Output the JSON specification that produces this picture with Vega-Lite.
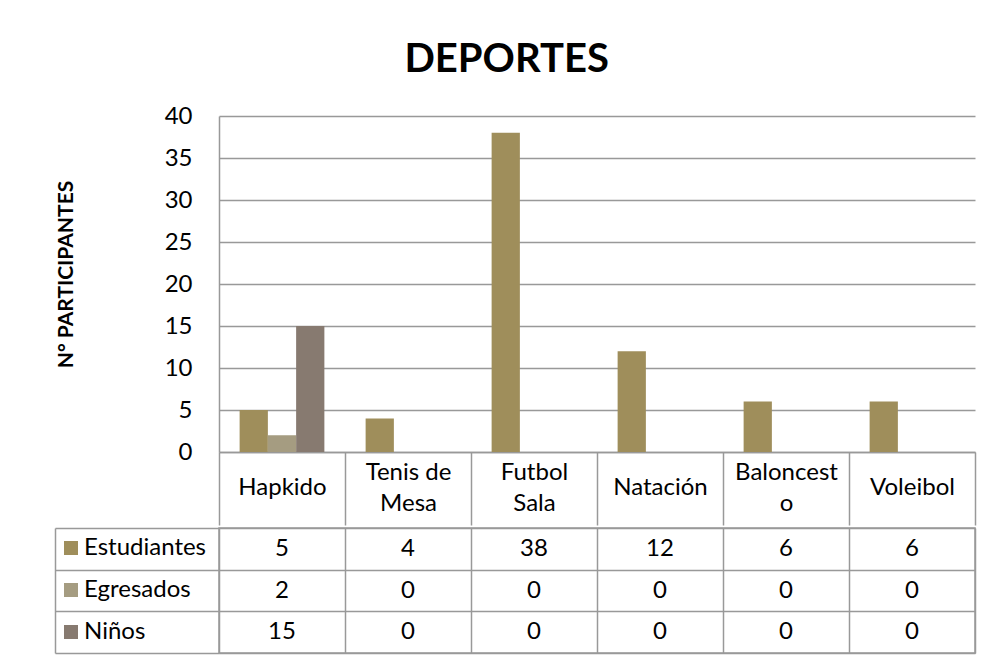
{
  "$schema": "https://vega.github.io/schema/vega-lite/v6.json",
  "padding": {"left": 53, "top": 40, "right": 10, "bottom": 5},
  "background": "#ffffff",
  "title": {"text": "DEPORTES", "font": "Lato", "fontSize": 40, "fontWeight": "bold", "color": "#000000", "anchor": "middle", "offset": 24, "dx": -8},
  "data": {"values": [
    {"sport": "Hapkido", "series": "Estudiantes", "value": 5},
    {"sport": "Hapkido", "series": "Egresados", "value": 2},
    {"sport": "Hapkido", "series": "Niños", "value": 15},
    {"sport": "Tenis de Mesa", "series": "Estudiantes", "value": 4},
    {"sport": "Tenis de Mesa", "series": "Egresados", "value": 0},
    {"sport": "Tenis de Mesa", "series": "Niños", "value": 0},
    {"sport": "Futbol Sala", "series": "Estudiantes", "value": 38},
    {"sport": "Futbol Sala", "series": "Egresados", "value": 0},
    {"sport": "Futbol Sala", "series": "Niños", "value": 0},
    {"sport": "Natación", "series": "Estudiantes", "value": 12},
    {"sport": "Natación", "series": "Egresados", "value": 0},
    {"sport": "Natación", "series": "Niños", "value": 0},
    {"sport": "Baloncesto", "series": "Estudiantes", "value": 6},
    {"sport": "Baloncesto", "series": "Egresados", "value": 0},
    {"sport": "Baloncesto", "series": "Niños", "value": 0},
    {"sport": "Voleibol", "series": "Estudiantes", "value": 6},
    {"sport": "Voleibol", "series": "Egresados", "value": 0},
    {"sport": "Voleibol", "series": "Niños", "value": 0}
  ]},
  "spacing": 0,
  "vconcat": [
    {
      "width": 756,
      "height": 336,
      "view": {"stroke": null},
      "mark": {"type": "bar"},
      "encoding": {
        "x": {
          "field": "sport", "type": "nominal",
          "sort": ["Hapkido", "Tenis de Mesa", "Futbol Sala", "Natación", "Baloncesto", "Voleibol"],
          "scale": {"paddingInner": 0, "paddingOuter": 0},
          "axis": {
            "title": null, "labelAngle": 0, "tickBand": "extent", "tickSize": 73,
            "tickColor": "#999999", "tickWidth": 1.5, "domainColor": "#999999", "domainWidth": 1.5,
            "labelFont": "Lato", "labelFontSize": 24, "labelColor": "#000000",
            "labelBaseline": "middle", "labelLineHeight": 31,
            "labelPadding": {"condition": {"test": "datum.value == 'Tenis de Mesa' || datum.value == 'Futbol Sala' || datum.value == 'Baloncesto'", "value": -53}, "value": -38},
            "labelExpr": "datum.label == 'Tenis de Mesa' ? ['Tenis de', 'Mesa'] : datum.label == 'Futbol Sala' ? ['Futbol', 'Sala'] : datum.label == 'Baloncesto' ? ['Baloncest', 'o'] : datum.label"
          }
        },
        "xOffset": {
          "field": "series", "type": "nominal",
          "sort": ["Estudiantes", "Egresados", "Niños"],
          "scale": {"paddingInner": 0, "paddingOuter": 0.73}
        },
        "y": {
          "field": "value", "type": "quantitative",
          "scale": {"domain": [0, 40]},
          "axis": {
            "values": [0, 5, 10, 15, 20, 25, 30, 35, 40],
            "title": "N° PARTICIPANTES", "titleFont": "Lato", "titleFontSize": 21, "titleFontWeight": "bold", "titleColor": "#000000", "titlePadding": 88, "titleY": 158,
            "ticks": false, "labelPadding": 27, "labelFont": "Lato", "labelFontSize": 24, "labelColor": "#000000",
            "domainColor": "#999999", "domainWidth": 1.5, "grid": true, "gridColor": "#999999", "gridWidth": 1.5
          }
        },
        "color": {
          "field": "series", "type": "nominal",
          "scale": {"domain": ["Estudiantes", "Egresados", "Niños"], "range": ["#9F8E5B", "#A59C81", "#877A70"]},
          "legend": {
            "orient": "none", "legendX": -160, "legendY": 420, "title": null,
            "symbolType": "square", "symbolSize": 196, "symbolStrokeWidth": 0,
            "labelFont": "Lato", "labelFontSize": 24, "labelColor": "#000000", "labelOffset": 1,
            "rowPadding": 18, "padding": 0
          }
        }
      }
    },
    {
      "width": 756,
      "height": 125,
      "view": {"stroke": "#999999", "strokeWidth": 1.5},
      "mark": {"type": "text", "font": "Lato", "fontSize": 24, "color": "#000000"},
      "encoding": {
        "x": {
          "field": "sport", "type": "nominal",
          "sort": ["Hapkido", "Tenis de Mesa", "Futbol Sala", "Natación", "Baloncesto", "Voleibol"],
          "scale": {"paddingInner": 0, "paddingOuter": 0},
          "axis": {"title": null, "labels": false, "ticks": false, "domain": false, "grid": true, "tickBand": "extent", "gridColor": "#999999", "gridWidth": 1.5}
        },
        "y": {
          "field": "series", "type": "nominal",
          "sort": ["Estudiantes", "Egresados", "Niños"],
          "scale": {"paddingInner": 0, "paddingOuter": 0},
          "axis": {"title": null, "labels": false, "offset": 164, "tickSize": -164, "tickBand": "extent", "tickColor": "#999999", "tickWidth": 1.5, "domainColor": "#999999", "domainWidth": 1.5, "grid": true, "gridColor": "#999999", "gridWidth": 1.5}
        },
        "text": {"field": "value", "type": "quantitative"}
      }
    }
  ]
}
